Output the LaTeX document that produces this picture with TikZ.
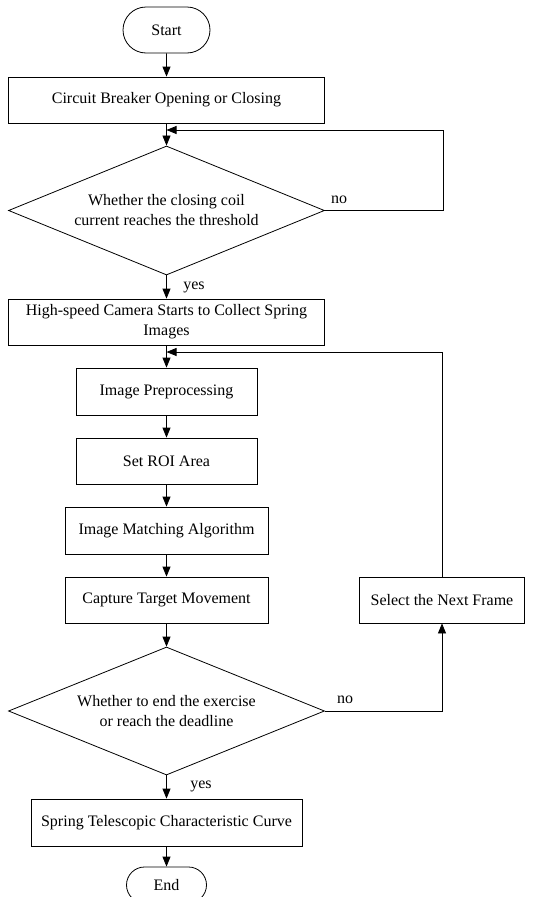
\documentclass[tikz,border=0pt]{standalone}
\usepackage{fontspec}
\setmainfont{Liberation Serif}
\usetikzlibrary{shapes.geometric,shapes.misc,arrows.meta}
\begin{document}
\begin{tikzpicture}[x=1pt,y=1pt,
  every node/.style={font=\fontsize{16}{20}\selectfont},
  box/.style={draw,rectangle,line width=0.8pt,inner sep=2pt,align=center},
  term/.style={draw,rounded rectangle,line width=0.8pt,inner sep=2pt},
  dec/.style={draw,diamond,aspect=2.45,inner sep=0pt,line width=0.8pt,align=center,minimum width=316pt,minimum height=129pt},
  arr/.style={-{Triangle[length=10pt,width=8pt]},line width=0.8pt},
  lbl/.style={inner sep=0pt}]
\useasboundingbox (0,0) rectangle (537,-897);
\node[term,minimum width=91pt,minimum height=46pt] (start) at (166.5,-30) {Start};
\node[box,minimum width=316pt,minimum height=46pt] (b1) at (166.5,-100) {Circuit Breaker Opening or Closing};
\node[dec] (d1) at (166.5,-210.5) {Whether the closing coil\\current reaches the threshold};
\node[box,minimum width=316pt,minimum height=46pt] (b2) at (166.5,-322) {High-speed Camera Starts to Collect Spring\\Images};
\node[box,minimum width=181pt,minimum height=47pt] (b3) at (166.5,-391.5) {Image Preprocessing};
\node[box,minimum width=181pt,minimum height=46pt] (b4) at (166.5,-461) {Set ROI Area};
\node[box,minimum width=203pt,minimum height=47pt] (b5) at (166.5,-530.5) {Image Matching Algorithm};
\node[box,minimum width=203pt,minimum height=46pt] (b6) at (166.5,-600) {Capture Target Movement};
\node[box,minimum width=165pt,minimum height=46pt] (sel) at (442,-600) {Select the Next Frame};
\node[dec,minimum height=128pt] (d2) at (166.5,-711) {Whether to end the exercise\\or reach the deadline};
\node[box,minimum width=271pt,minimum height=47pt] (b7) at (166.5,-822.5) {Spring Telescopic Characteristic Curve};
\node[term,minimum width=84pt,minimum height=36pt] (end) at (166.5,-885) {End};
\coordinate (m1) at (166.5,-130);
\coordinate (m2) at (166.5,-352);
\coordinate (r1) at (443,-210.5);
\node[lbl] (no1) at (339,-200) {no};
\node[lbl] (no2) at (345,-700) {no};
\node[lbl] (yes1) at (194,-287) {yes};
\node[lbl] (yes2) at (201,-786) {yes};
\draw[arr] (start) -- (b1);
\draw[arr] (b1) -- (d1);
\draw[arr] (d1) -- (b2);
\draw[arr] (b2) -- (b3);
\draw[arr] (b3) -- (b4);
\draw[arr] (b4) -- (b5);
\draw[arr] (b5) -- (b6);
\draw[arr] (b6) -- (d2);
\draw[arr] (d2) -- (b7);
\draw[arr] (b7) -- (end);
\draw[arr] (d1.east) -- (r1) |- (m1);
\draw[arr] (d2.east) -| (sel.south);
\draw[arr] (sel.north) |- (m2);
\end{tikzpicture}
\end{document}
